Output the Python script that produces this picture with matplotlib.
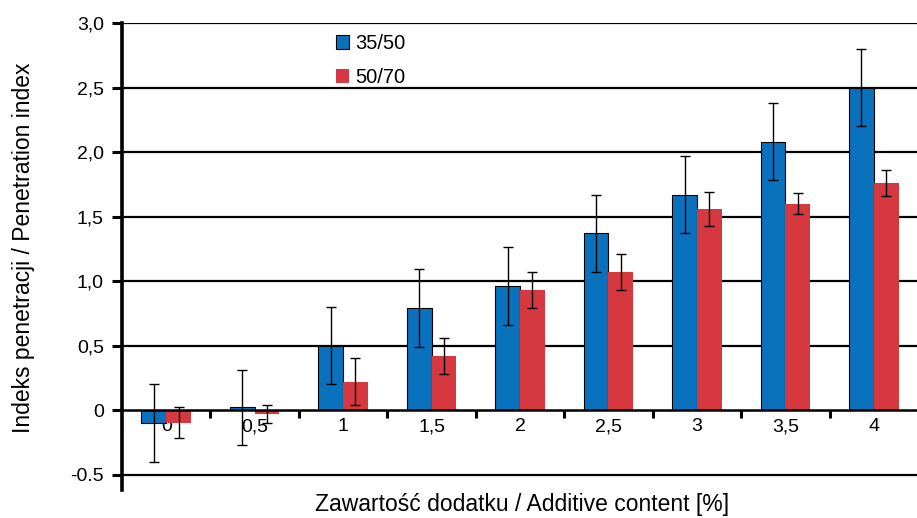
import numpy as np
import matplotlib.pyplot as plt

plt.rcParams['font.family'] = ['Liberation Sans', 'DejaVu Sans']

categories = ["0", "0,5", "1", "1,5", "2", "2,5", "3", "3,5", "4"]
series_names = ["35/50", "50/70"]
vals_3550 = [-0.10, 0.02, 0.50, 0.79, 0.96, 1.37, 1.67, 2.08, 2.50]
err_3550 = [0.30, 0.29, 0.30, 0.30, 0.30, 0.30, 0.30, 0.30, 0.30]
vals_5070 = [-0.10, -0.03, 0.22, 0.42, 0.93, 1.07, 1.56, 1.60, 1.76]
err_5070 = [0.12, 0.07, 0.18, 0.14, 0.14, 0.14, 0.13, 0.08, 0.10]
ytick_vals = [-0.5, 0, 0.5, 1.0, 1.5, 2.0, 2.5, 3.0]
ytick_labels = ["-0.5", "0", "0,5", "1,0", "1,5", "2,0", "2,5", "3,0"]

colors = ["#0a72bc", "#d5393f"]

fig = plt.figure(figsize=(9.17, 5.18), dpi=100)
ax = fig.add_axes([122/917, 1-490/518, 796/917, (490-23)/518])

x = np.arange(len(categories))
w = 0.28
err_kw = dict(elinewidth=1.0, capthick=1.0, ecolor="black")
ax.bar(x - w/2, vals_3550, w, yerr=err_3550, capsize=3.5, color=colors[0],
       edgecolor="black", linewidth=0.8, error_kw=err_kw, label=series_names[0], zorder=3)
ax.bar(x + w/2, vals_5070, w, yerr=err_5070, capsize=3.5, color=colors[1],
       edgecolor="none", error_kw=err_kw, label=series_names[1], zorder=3)

ax.set_xlim(-0.5, len(categories) - 0.5)
ax.set_ylim(-0.62, 3.0)

for v in ytick_vals:
    if v != 0:
        ax.axhline(v, color="black", linewidth=1.6, zorder=1)

ax.spines['top'].set_visible(False)
ax.spines['right'].set_visible(False)
ax.spines['bottom'].set_position(('data', 0))
ax.spines['bottom'].set_linewidth(1.8)
ax.spines['bottom'].set_zorder(4)
ax.spines['left'].set_linewidth(2.6)

ax.set_yticks(ytick_vals)
ax.set_yticklabels(ytick_labels, fontsize=14)
ax.tick_params(axis='y', length=7, width=2.2, pad=6, colors="black")

ax.set_xticks(x)
ax.set_xticklabels(categories, fontsize=14)
ax.tick_params(axis='x', which='major', length=0, pad=6)
ax.set_xticks(x[:-1] + 0.5, minor=True)
ax.tick_params(axis='x', which='minor', length=6, width=2.2, direction='out')

fig.text(522/917, 1-504/518, "Zawartość dodatku / Additive content [%]", fontsize=16.5,
         ha="center", va="center")
fig.text(24/917, 1-248/518, "Indeks penetracji / Penetration index", fontsize=16.5,
         rotation=90, ha="center", va="center")

ax.legend(loc="upper left", bbox_to_anchor=(318/917, 1-16/518), bbox_transform=fig.transFigure,
          frameon=False, fontsize=14.5, handlelength=0.65, handleheight=0.65,
          handletextpad=0.3, labelspacing=0.75)

fig.savefig("out.png", dpi=100)
